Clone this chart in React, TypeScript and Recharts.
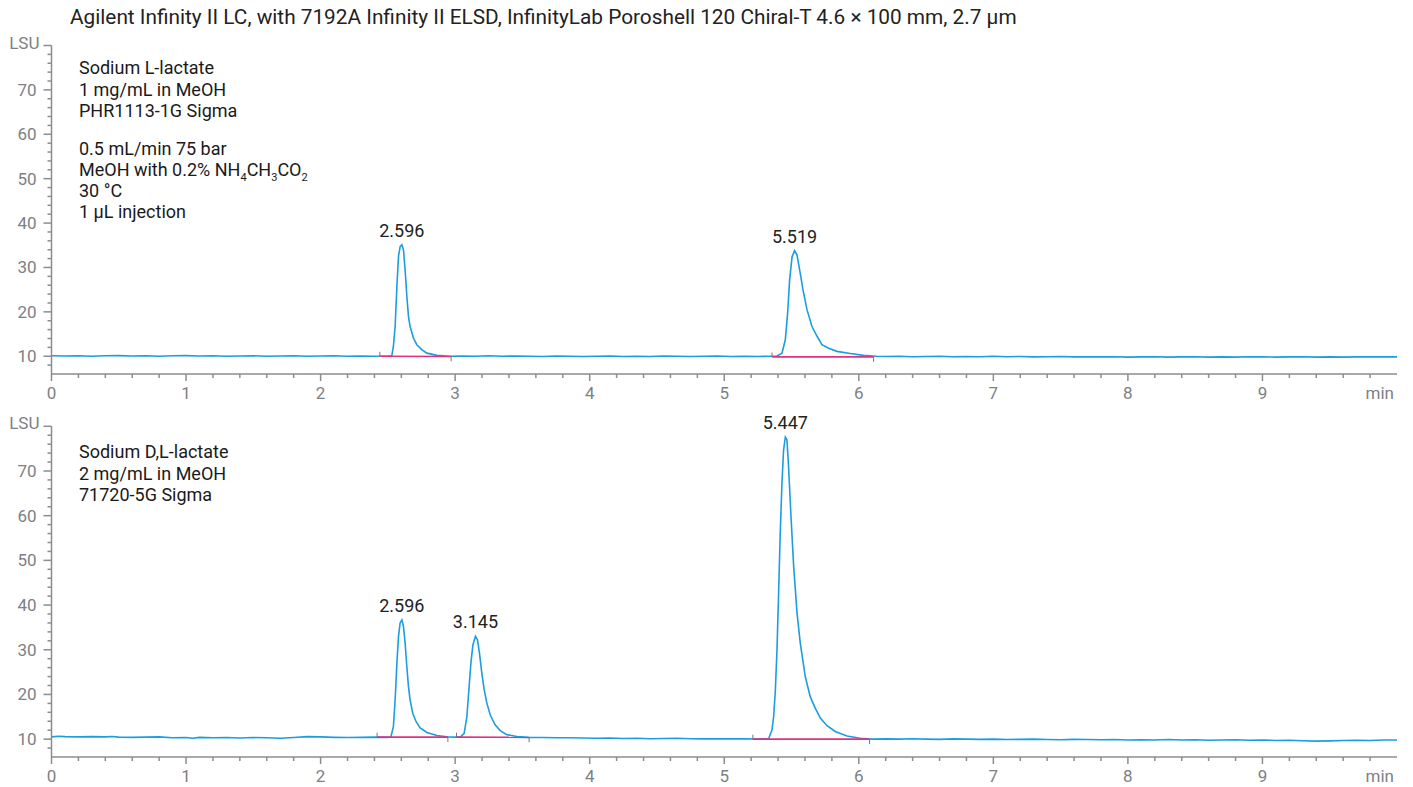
import React from 'react';
import { LineChart, Line, XAxis, YAxis, ReferenceDot, ReferenceLine } from 'recharts';

const title = 'Agilent Infinity II LC, with 7192A Infinity II ELSD, InfinityLab Poroshell 120 Chiral-T 4.6 × 100 mm, 2.7 µm';

const xTicks = [0, 0.2, 0.4, 0.6, 0.8, 1, 1.2, 1.4, 1.6, 1.8, 2, 2.2, 2.4, 2.6, 2.8, 3, 3.2, 3.4, 3.6, 3.8, 4, 4.2, 4.4, 4.6, 4.8, 5, 5.2, 5.4, 5.6, 5.8, 6, 6.2, 6.4, 6.6, 6.8, 7, 7.2, 7.4, 7.6, 7.8, 8, 8.2, 8.4, 8.6, 8.8, 9, 9.2, 9.4, 9.6, 9.8, 10];
const yTicks = [8, 10, 12, 14, 16, 18, 20, 22, 24, 26, 28, 30, 32, 34, 36, 38, 40, 42, 44, 46, 48, 50, 52, 54, 56, 58, 60, 62, 64, 66, 68, 70, 72, 74, 76, 78, 80];

// top trace: Sodium L-lactate
const topTime = [
  0, 0.1, 0.2, 0.3, 0.4, 0.5, 0.6, 0.7, 0.8, 0.9, 1.0, 1.1, 1.2, 1.3, 1.4, 1.5, 1.6, 1.7, 1.8, 1.9, 2.0, 2.1, 2.2, 2.3, 2.4, 2.5,
  2.529, 2.541, 2.554, 2.567, 2.579, 2.591, 2.604, 2.616, 2.628, 2.641, 2.653, 2.665, 2.69, 2.715, 2.752, 2.79, 2.864, 2.96,
  3.05, 3.15, 3.25, 3.35, 3.45, 3.55, 3.65, 3.75, 3.85, 3.95, 4.05, 4.15, 4.25, 4.35, 4.45, 4.55, 4.65, 4.75, 4.85, 4.95, 5.05, 5.15, 5.25, 5.35,
  5.392, 5.429, 5.454, 5.471, 5.486, 5.504, 5.523, 5.541, 5.56, 5.585, 5.615, 5.652, 5.69, 5.726, 5.776, 5.838, 5.937, 6.036, 6.13,
  6.2, 6.3, 6.4, 6.5, 6.6, 6.7, 6.8, 6.9, 7.0, 7.1, 7.2, 7.3, 7.4, 7.5, 7.6, 7.7, 7.8, 7.9, 8.0, 8.1, 8.2, 8.3, 8.4, 8.5, 8.6, 8.7, 8.8, 8.9, 9.0, 9.1, 9.2, 9.3, 9.4, 9.5, 9.6, 9.7, 9.8, 9.9, 10.0,
];
const topSignal = [
  10.1, 10.05, 10.1, 10.0, 10.1, 10.15, 10.05, 10.1, 10.0, 10.1, 10.15, 10.05, 10.1, 10.0, 10.05, 10.1, 10.0, 10.05, 10.1, 10.0, 10.05, 10.1, 10.0, 10.05, 10.0, 10.05,
  10.1, 12.2, 16.7, 25.7, 32.5, 34.7, 35.1, 34.0, 29.5, 23.5, 19.0, 16.7, 14.1, 12.6, 11.5, 10.7, 10.2, 10.0,
  10.05, 10.0, 10.1, 10.0, 10.05, 10.0, 9.95, 10.05, 10.0, 9.95, 10.0, 10.05, 9.95, 10.0, 9.95, 10.05, 10.0, 9.95, 10.0, 10.05, 9.95, 10.0, 9.95, 10.0,
  10.05, 10.7, 13.7, 19.7, 27.2, 32.4, 33.8, 32.8, 29.5, 25.0, 20.5, 16.7, 14.5, 12.6, 11.8, 11.1, 10.6, 10.2, 10.0,
  9.95, 10.0, 9.9, 9.95, 10.0, 9.9, 9.95, 9.9, 10.0, 9.9, 9.95, 9.85, 9.9, 9.95, 9.85, 9.9, 9.85, 9.9, 9.8, 9.85, 9.9, 9.8, 9.85, 9.9, 9.8, 9.85, 9.8, 9.9, 9.85, 9.8, 9.85, 9.9, 9.8, 9.85, 9.8, 9.85, 9.9, 9.85, 9.85,
];

// bottom trace: Sodium D,L-lactate
const bottomTime = [
  0, 0.05, 0.1, 0.2, 0.3, 0.4, 0.45, 0.5, 0.6, 0.7, 0.8, 0.9, 1.0, 1.05, 1.1, 1.2, 1.3, 1.4, 1.5, 1.6, 1.7, 1.8, 1.9, 2.0, 2.1, 2.2, 2.3, 2.4, 2.5,
  2.522, 2.541, 2.554, 2.567, 2.579, 2.591, 2.604, 2.616, 2.628, 2.641, 2.653, 2.665, 2.685, 2.71, 2.74, 2.79, 2.864, 2.94, 3.0,
  3.038, 3.067, 3.087, 3.102, 3.117, 3.132, 3.151, 3.166, 3.181, 3.198, 3.216, 3.236, 3.261, 3.297, 3.335, 3.384, 3.459, 3.55,
  3.65, 3.75, 3.85, 3.95, 4.05, 4.15, 4.25, 4.35, 4.45, 4.55, 4.65, 4.75, 4.85, 4.95, 5.05, 5.15, 5.25, 5.33,
  5.355, 5.367, 5.38, 5.392, 5.404, 5.416, 5.429, 5.441, 5.454, 5.466, 5.478, 5.496, 5.516, 5.541, 5.565, 5.602, 5.639, 5.677, 5.714, 5.764, 5.825, 5.912, 6.01, 6.1,
  6.2, 6.3, 6.4, 6.5, 6.6, 6.7, 6.8, 6.9, 7.0, 7.1, 7.2, 7.3, 7.4, 7.5, 7.6, 7.7, 7.8, 7.9, 8.0, 8.1, 8.2, 8.3, 8.4, 8.5, 8.6, 8.7, 8.8, 8.9, 9.0, 9.1, 9.2, 9.3, 9.4, 9.5, 9.6, 9.7, 9.8, 9.9, 10.0,
];
const bottomSignal = [
  10.5, 10.65, 10.55, 10.5, 10.55, 10.5, 10.6, 10.45, 10.4, 10.45, 10.5, 10.3, 10.35, 10.2, 10.4, 10.3, 10.35, 10.25, 10.35, 10.3, 10.2, 10.35, 10.55, 10.5, 10.4, 10.35, 10.4, 10.45, 10.4,
  10.45, 12.8, 18.8, 27.0, 33.0, 36.0, 36.7, 35.2, 31.5, 26.2, 21.8, 18.8, 15.8, 13.9, 12.5, 11.5, 10.8, 10.5, 10.45,
  10.45, 11.3, 15.0, 21.0, 27.0, 31.1, 33.0, 32.2, 29.2, 24.8, 21.0, 18.0, 15.4, 13.2, 11.9, 11.0, 10.6, 10.4,
  10.35, 10.3, 10.3, 10.25, 10.2, 10.25, 10.15, 10.2, 10.1, 10.15, 10.2, 10.1, 10.05, 10.1, 10.05, 10.1, 10.0, 10.1,
  12.1, 15.0, 21.0, 30.0, 42.7, 56.0, 67.3, 74.7, 77.6, 77.0, 71.0, 59.8, 48.6, 38.2, 31.5, 24.0, 19.5, 16.9, 14.7, 13.0, 11.7, 10.7, 10.2, 10.0,
  10.05, 10.0, 10.1, 10.0, 9.95, 10.05, 10.0, 9.95, 10.0, 9.9, 9.95, 10.0, 9.9, 9.85, 9.95, 9.9, 9.85, 9.9, 9.8, 9.85, 9.8, 9.9, 9.8, 9.85, 9.75, 9.8, 9.85, 9.75, 9.8, 9.7, 9.75, 9.65, 9.55, 9.6, 9.7, 9.75, 9.7, 9.8, 9.8,
];

const topPeaks = [
  { label: '2.596', time: 2.604, height: 35.1 },
  { label: '5.519', time: 5.523, height: 33.8 },
];
const bottomPeaks = [
  { label: '2.596', time: 2.604, height: 36.7 },
  { label: '3.145', time: 3.151, height: 33.0 },
  { label: '5.447', time: 5.454, height: 77.6 },
];

const topIntegrations = [
  { start: 2.44, end: 2.97, startLevel: 10.0, endLevel: 9.95 },
  { start: 5.355, end: 6.11, startLevel: 9.85, endLevel: 9.85 },
];
const bottomIntegrations = [
  { start: 2.42, end: 2.946, startLevel: 10.45, endLevel: 10.45 },
  { start: 3.01, end: 3.55, startLevel: 10.45, endLevel: 10.4 },
  { start: 5.213, end: 6.08, startLevel: 10.0, endLevel: 10.0 },
];

const topNotes = ['Sodium L-lactate', '1 mg/mL in MeOH', 'PHR1113-1G Sigma'];
const methodNotes = ['0.5 mL/min 75 bar', 'MeOH with 0.2% NH4CH3CO2', '30 °C', '1 µL injection'];
const bottomNotes = ['Sodium D,L-lactate', '2 mg/mL in MeOH', '71720-5G Sigma'];

const BLUE = '#1a9edf';
const PINK = '#e3317f';
const AXIS = '#8a8d91';
const TICKTEXT = '#7d8085';
const FONT = 'Roboto, "Noto Sans", sans-serif';

const toPoints = (ts: number[], vs: number[]) => ts.map((t, i) => ({ t, v: vs[i] }));

function XTick(props: any) {
  const { x, y, payload } = props;
  const v = payload.value;
  const major = Math.abs(v - Math.round(v)) < 1e-6;
  if (Math.abs(v - 10) < 1e-6) {
    return (
      <text x={x - 3} y={y + 19} textAnchor="end" dominantBaseline="central" fill={TICKTEXT} fontSize={17} fontFamily={FONT}>
        min
      </text>
    );
  }
  return (
    <g>
      <line x1={x} x2={x} y1={y} y2={y + (major ? 7 : 4)} stroke={AXIS} strokeWidth={1.5} />
      {major && (
        <text x={x} y={y + 19} textAnchor="middle" dominantBaseline="central" fill={TICKTEXT} fontSize={17} fontFamily={FONT}>
          {String(Math.round(v))}
        </text>
      )}
    </g>
  );
}

function YTick(props: any) {
  const { x, y, payload } = props;
  const v = payload.value;
  const major = v % 10 === 0;
  let label: string | null = null;
  if (v === 80) label = 'LSU';
  else if (major) label = String(v);
  return (
    <g>
      <line x1={x - (major ? 8 : 4)} x2={x} y1={y} y2={y} stroke={AXIS} strokeWidth={1.5} />
      {label && (
        <text x={v === 80 ? x - 12 : x - 15} y={v === 80 ? y - 3 : y} textAnchor="end" dominantBaseline="central" fill={TICKTEXT} fontSize={17} fontFamily={FONT}>
          {label}
        </text>
      )}
    </g>
  );
}

function Panel(props: { data: { t: number; v: number }[]; peaks: any[]; integrations: any[]; marginTop: number; height: number; xHeight: number }) {
  const { data, peaks, integrations, marginTop, height, xHeight } = props;
  return (
    <LineChart width={1413} height={height} margin={{ top: marginTop, right: 16, left: 0, bottom: 0 }}>
      <XAxis
        dataKey="t"
        type="number"
        domain={[0, 10]}
        ticks={xTicks}
        interval={0}
        allowDataOverflow
        height={xHeight}
        tickSize={0}
        tickMargin={0}
        tick={<XTick />}
        axisLine={{ stroke: AXIS, strokeWidth: 1.5 }}
        tickLine={false}
      />
      <YAxis
        dataKey="v"
        type="number"
        domain={[6, 80]}
        ticks={yTicks}
        interval={0}
        allowDataOverflow
        width={51.5}
        tickSize={0}
        tickMargin={0}
        tick={<YTick />}
        axisLine={{ stroke: AXIS, strokeWidth: 1.5 }}
        tickLine={false}
      />
      <Line data={data} dataKey="v" type="linear" stroke={BLUE} strokeWidth={1.6} dot={false} isAnimationActive={false} />
      {integrations.map((seg, i) => (
        <Line
          key={'int' + i}
          data={[{ t: seg.start, v: seg.startLevel }, { t: seg.end, v: seg.endLevel }]}
          dataKey="v"
          type="linear"
          stroke={PINK}
          strokeWidth={1.6}
          dot={false}
          isAnimationActive={false}
        />
      ))}
      {integrations.map((seg, i) => (
        <ReferenceLine
          key={'s' + i}
          segment={[{ x: seg.start, y: seg.startLevel }, { x: seg.start, y: seg.startLevel + 1 }]}
          stroke="#777"
          strokeWidth={1}
        />
      ))}
      {integrations.map((seg, i) => (
        <ReferenceLine
          key={'e' + i}
          segment={[{ x: seg.end, y: seg.endLevel }, { x: seg.end, y: seg.endLevel - 1.1 }]}
          stroke="#777"
          strokeWidth={1}
        />
      ))}
      {peaks.map((p, i) => (
        <ReferenceDot
          key={'p' + i}
          x={p.time}
          y={p.height}
          r={0}
          fill="none"
          stroke="none"
          label={{ value: p.label, position: 'top', offset: 8, fill: '#222', fontSize: 18, fontFamily: FONT }}
        />
      ))}
    </LineChart>
  );
}

const noteStyle: React.CSSProperties = {
  position: 'absolute',
  left: 79,
  fontFamily: FONT,
  fontSize: 18,
  lineHeight: '21.3px',
  color: '#1a1a1a',
  whiteSpace: 'nowrap',
};

const subStyle: React.CSSProperties = { fontSize: 11, verticalAlign: '-5px', lineHeight: 0 };

export default function App() {
  const topData = toPoints(topTime, topSignal);
  const bottomData = toPoints(bottomTime, bottomSignal);
  return (
    <div style={{ position: 'absolute', left: 0, top: 0, width: 1413, height: 787, background: '#fff', overflow: 'hidden' }}>
      <div style={{ position: 'absolute', top: 0, left: 0 }}>
        <Panel data={topData} peaks={topPeaks} integrations={topIntegrations} marginTop={45.5} height={405} xHeight={31} />
      </div>
      <div style={{ position: 'absolute', top: 382, left: 0 }}>
        <Panel data={bottomData} peaks={bottomPeaks} integrations={bottomIntegrations} marginTop={44.3} height={405} xHeight={30} />
      </div>
      <div style={{ position: 'absolute', left: 70, top: 5, fontFamily: FONT, fontSize: 20.8, lineHeight: '24px', color: '#222', whiteSpace: 'nowrap' }}>
        {title}
      </div>
      <div style={{ ...noteStyle, top: 57.4 }}>
        {topNotes.map((n) => (
          <div key={n}>{n}</div>
        ))}
      </div>
      <div style={{ ...noteStyle, top: 137.6 }}>
        {methodNotes.map((n) =>
          n.indexOf('NH4') >= 0 ? (
            <div key={n}>
              MeOH with 0.2% NH<sub style={subStyle}>4</sub>CH<sub style={subStyle}>3</sub>CO<sub style={subStyle}>2</sub>
            </div>
          ) : (
            <div key={n}>{n}</div>
          )
        )}
      </div>
      <div style={{ ...noteStyle, top: 441.4 }}>
        {bottomNotes.map((n) => (
          <div key={n}>{n}</div>
        ))}
      </div>
    </div>
  );
}
